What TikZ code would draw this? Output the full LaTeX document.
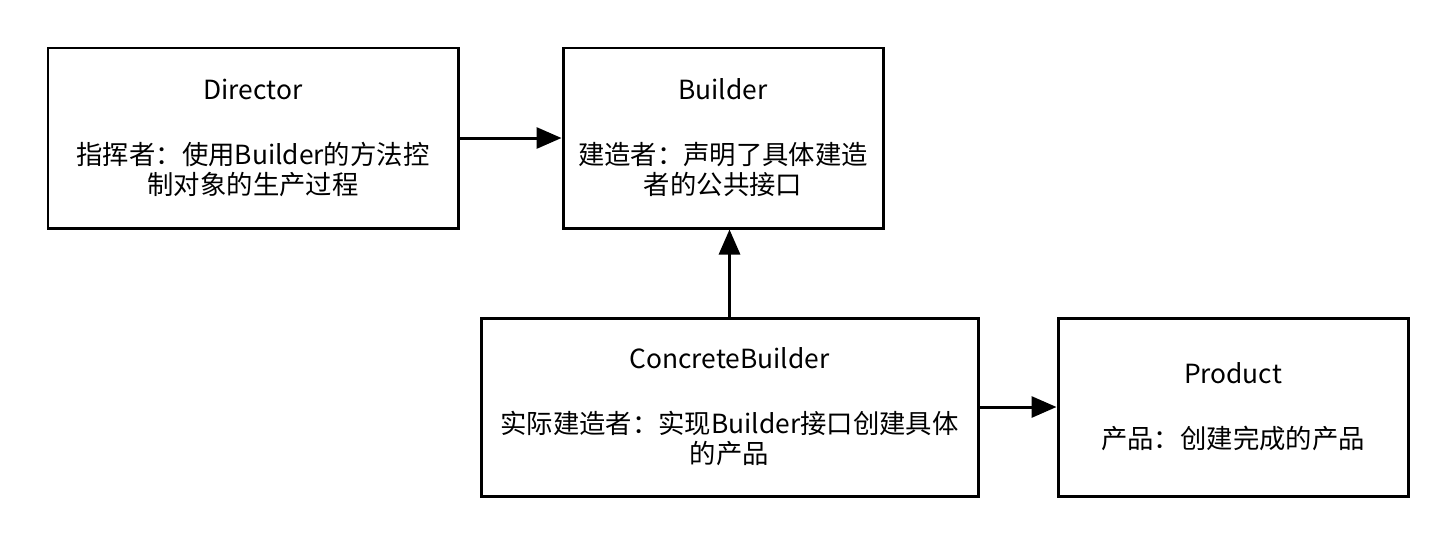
\documentclass[tikz,border=0pt]{standalone}
\usepackage{fontspec}
\newfontfamily\cjk{Noto Sans CJK SC}
\usetikzlibrary{arrows.meta}
\tikzset{
  box/.style={draw, line width=1.7pt, align=center, font=\cjk\fontsize{15}{17}\selectfont},
  link/.style={line width=1.7pt, -{Triangle[length=0.5cm,width=0.42cm]}}
}
\begin{document}
\begin{tikzpicture}
  \useasboundingbox (0,0) rectangle (29.08,-10.96);
  \node[box, minimum width=8.2cm, minimum height=3.6cm] (director) at (5.06,-2.76)
    {Director\\[20pt]指挥者：使用Builder的方法控\\制对象的生产过程};
  \node[box, minimum width=6.4cm, minimum height=3.6cm] (builder) at (14.46,-2.76)
    {Builder\\[20pt]建造者：声明了具体建造\\者的公共接口};
  \node[box, minimum width=9.94cm, minimum height=3.56cm] (concrete) at (14.59,-8.14)
    {ConcreteBuilder\\[20pt]实际建造者：实现Builder接口创建具体\\的产品};
  \node[box, minimum width=7.0cm, minimum height=3.56cm] (product) at (24.66,-8.14)
    {Product\\[20pt]产品：创建完成的产品};
  \draw[link] (director) -- (builder);
  \draw[link] (concrete.north) -- (concrete.north |- builder.south);
  \draw[link] (concrete) -- (product);
\end{tikzpicture}
\end{document}
